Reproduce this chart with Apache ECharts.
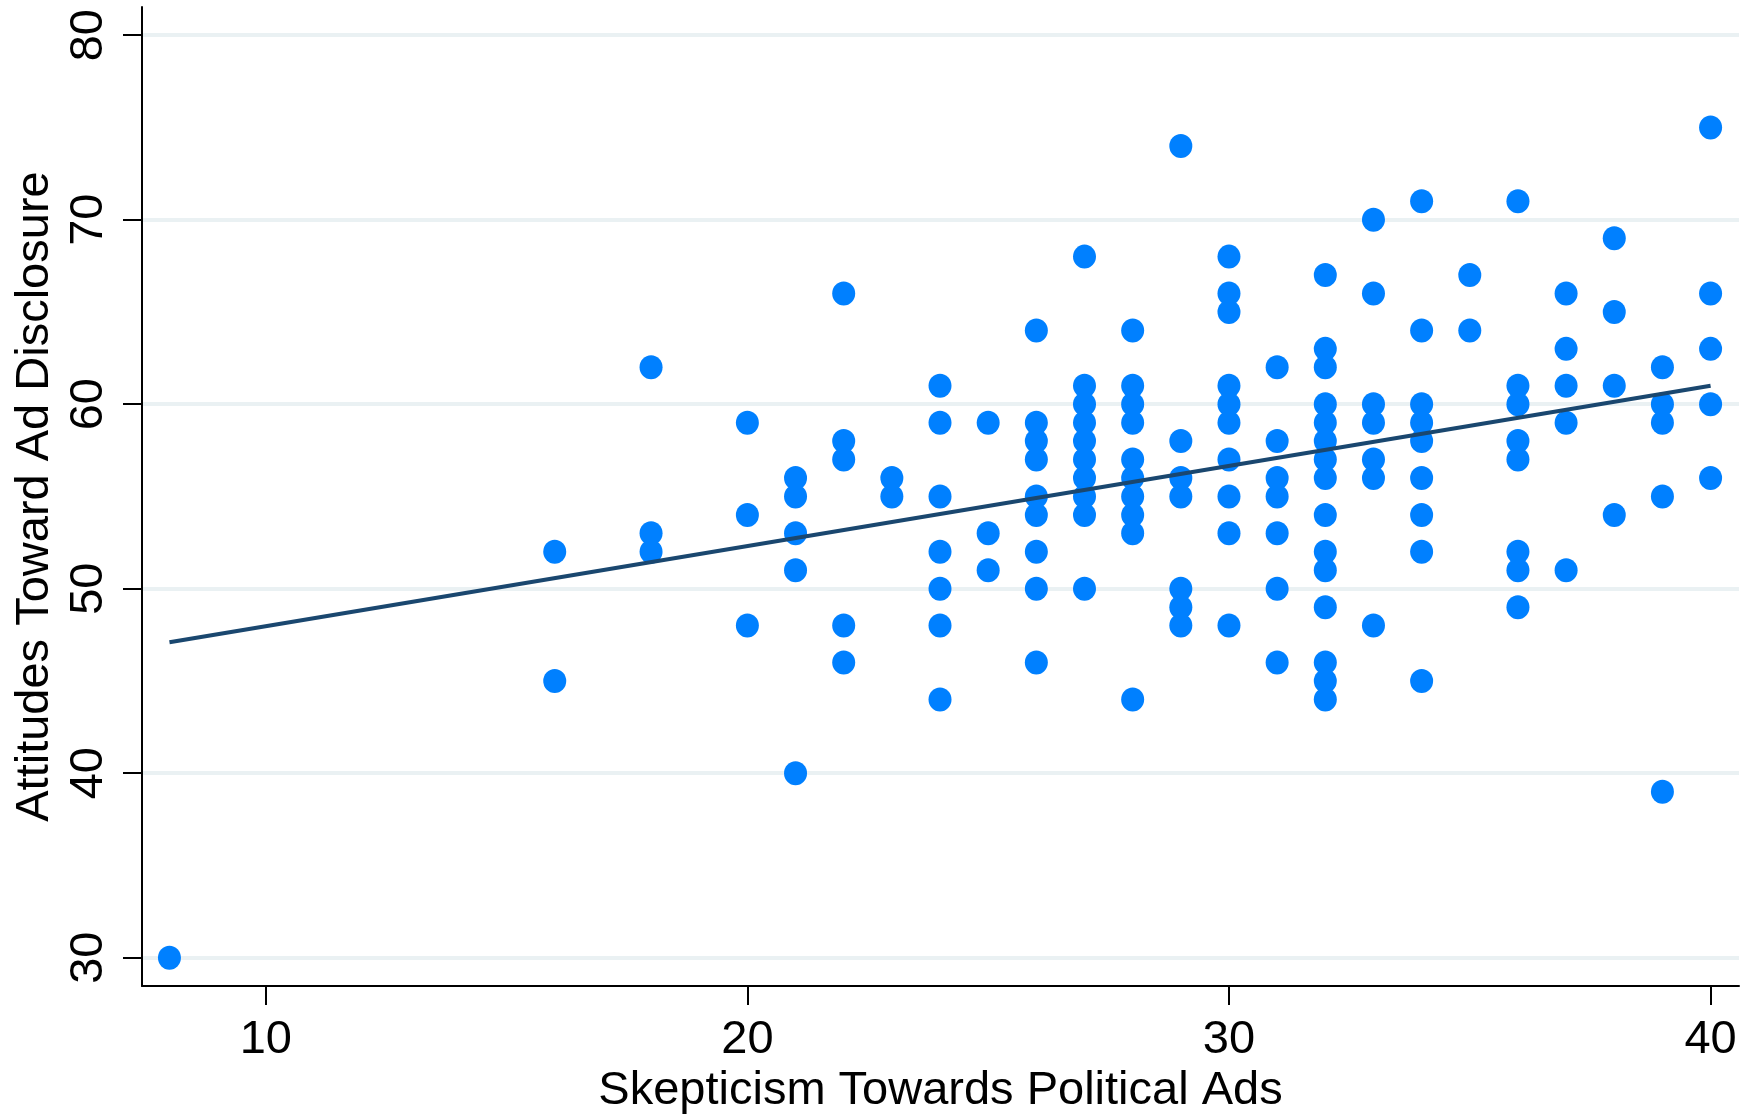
<!DOCTYPE html>
<html>
<head>
<meta charset="utf-8">
<title>Skepticism vs Attitudes</title>
<script src="https://cdn.jsdelivr.net/npm/echarts@6/dist/echarts.min.js"></script>
<style>
    html, body { margin: 0; padding: 0; background: #fff; }
    #scatterChart { width: 1748px; height: 1120px; }
</style>
</head>
<body>
<div id="scatterChart"></div>
<script>
// skepticism score (x) and the attitude scores observed at each one (y)
const skepticism = [8, 16, 18, 20, 21, 22, 23, 24, 25, 26, 27, 28, 29, 30, 31, 32, 33, 34, 35, 36, 37, 38, 39, 40];
const attitudes = [
    [30],
    [52, 45],
    [62, 53, 52],
    [59, 54, 48],
    [56, 55, 53, 51, 40],
    [66, 58, 57, 48, 46],
    [56, 55],
    [61, 59, 55, 52, 50, 48, 44],
    [59, 53, 51],
    [64, 59, 58, 57, 55, 54, 52, 50, 46],
    [68, 61, 60, 59, 58, 57, 56, 55, 54, 50],
    [64, 61, 60, 59, 57, 56, 55, 54, 53, 44],
    [74, 58, 56, 55, 50, 49, 48],
    [68, 66, 65, 61, 60, 59, 57, 55, 53, 48],
    [62, 58, 56, 55, 53, 50, 46],
    [67, 63, 62, 60, 59, 58, 57, 56, 54, 52, 51, 49, 46, 45, 44],
    [70, 66, 60, 59, 57, 56, 48],
    [71, 64, 60, 59, 58, 56, 54, 52, 45],
    [67, 64],
    [71, 61, 60, 58, 57, 52, 51, 49],
    [66, 63, 61, 59, 51],
    [69, 65, 61, 54],
    [62, 60, 59, 55, 39],
    [75, 66, 63, 60, 56]
];
// fitted line
const fitX = [8, 40];
const fitY = [47.1, 61.0];

const xTicks = [10, 20, 30, 40];
const yTicks = [30, 40, 50, 60, 70, 80];

let points = [];
skepticism.forEach((x, i) => {
    attitudes[i].forEach(y => points.push([x, y]));
});
let fitLine = fitX.map((x, i) => [x, fitY[i]]);

const fontFamily = "'Liberation Sans', Arial, sans-serif";

let option = {
    animation: false,
    backgroundColor: '#ffffff',
    grid: {
        left: 142,
        right: 9,
        top: 7,
        bottom: 130
    },
    xAxis: {
        type: 'value',
        min: 7.43,
        max: 40.59,
        name: 'Skepticism Towards Political Ads',
        nameLocation: 'middle',
        nameGap: 72,
        nameTextStyle: { fontSize: 47, color: '#000', fontFamily: fontFamily },
        axisLine: { show: true, onZero: false, lineStyle: { color: '#000', width: 2 } },
        axisTick: { show: true, length: 19, lineStyle: { color: '#000', width: 2 }, customValues: xTicks },
        axisLabel: { fontSize: 47, color: '#000', fontFamily: fontFamily, margin: 30, customValues: xTicks },
        splitLine: { show: false }
    },
    yAxis: {
        type: 'value',
        min: 28.46,
        max: 81.53,
        name: 'Attitudes Toward Ad Disclosure',
        nameLocation: 'middle',
        nameGap: 82,
        nameRotate: 90,
        nameTextStyle: { fontSize: 47, color: '#000', fontFamily: fontFamily },
        axisLine: { show: true, onZero: false, lineStyle: { color: '#000', width: 2 } },
        axisTick: { show: true, length: 19, lineStyle: { color: '#000', width: 2 }, customValues: yTicks },
        axisLabel: { fontSize: 47, color: '#000', fontFamily: fontFamily, margin: 29, rotate: 90, customValues: yTicks },
        splitLine: { show: true, lineStyle: { color: '#eaf1f3', width: 4 } }
    },
    series: [
        {
            name: 'attitudes',
            type: 'scatter',
            symbol: 'circle',
            symbolSize: [23, 24],
            itemStyle: { color: '#0080ff', opacity: 1 },
            data: points,
            z: 2
        },
        {
            name: 'fit',
            type: 'line',
            symbol: 'none',
            lineStyle: { color: '#1a476f', width: 4 },
            data: fitLine,
            z: 3
        }
    ]
};

let myChart = echarts.init(document.getElementById('scatterChart'));
myChart.setOption(option);
</script>
</body>
</html>
